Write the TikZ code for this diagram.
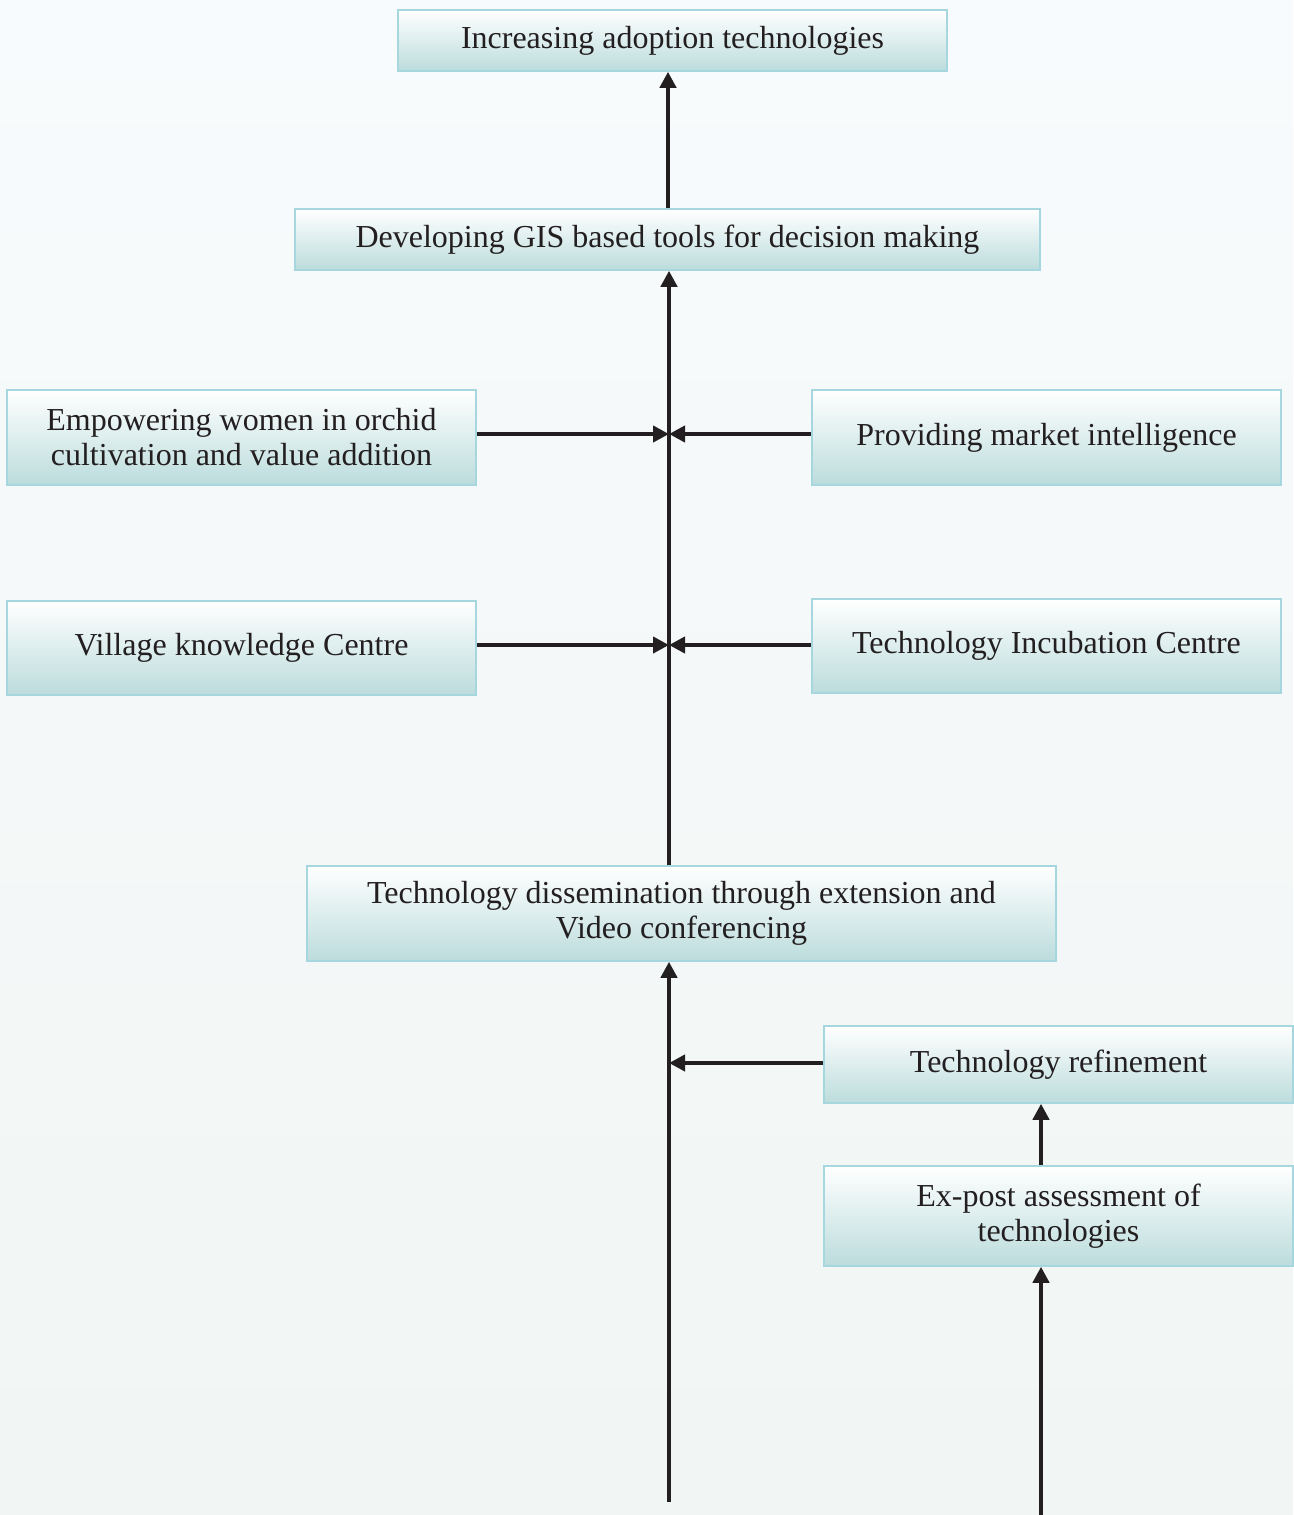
\documentclass[tikz,border=0pt]{standalone}
\usepackage{fontspec}
\setmainfont{Liberation Serif}
\usetikzlibrary{arrows.meta}

\definecolor{inkdark}{HTML}{231F20}
\definecolor{boxedge}{HTML}{A6D7DF}
\definecolor{boxlow}{HTML}{BCDCDC}
\definecolor{bgtop}{HTML}{F7FBFD}
\definecolor{bgbottom}{HTML}{F1F5F3}

\tikzset{
  flowbox/.style={draw=boxedge, line width=1.5pt, top color=white, bottom color=boxlow,
    inner sep=0pt, align=center, text=inkdark,
    font=\fontsize{32}{35}\selectfont},
  flowarrow/.style={draw=inkdark, line width=4.5pt,
    -{Triangle[length=16pt,width=16pt]}}
}

\begin{document}
\begin{tikzpicture}[x=1pt,y=-1pt]
  % background
  \shade[top color=bgtop, bottom color=bgbottom] (0,0) rectangle (1293,1515);
  \useasboundingbox (0,0) rectangle (1293,1515);

  % boxes
  \node[flowbox, minimum width=549pt, minimum height=61pt] (adopt) at (672.5,40.5) {Increasing adoption technologies};
  \node[flowbox, minimum width=745pt, minimum height=61pt] (gis) at (667.5,239.5) {Developing GIS based tools for decision making};
  \node[flowbox, minimum width=469pt, minimum height=95pt] (women) at (241.5,437.5) {Empowering women in orchid\\cultivation and value addition};
  \node[flowbox, minimum width=469pt, minimum height=95pt] (market) at (1046.5,437.5) {Providing market intelligence};
  \node[flowbox, minimum width=469pt, minimum height=94pt] (village) at (241.5,648) {Village knowledge Centre};
  \node[flowbox, minimum width=469pt, minimum height=94pt] (incub) at (1046.5,646) {Technology Incubation Centre};
  \node[flowbox, minimum width=749pt, minimum height=95pt] (dissem) at (681.5,913.5) {Technology dissemination through extension and\\Video conferencing};
  \node[flowbox, minimum width=469pt, minimum height=77pt] (refine) at (1058.5,1064.5) {Technology refinement};
  \node[flowbox, minimum width=469pt, minimum height=100pt] (expost) at (1058.5,1216) {Ex-post assessment of\\technologies};

  % junction points on the main trunk
  \coordinate (jwomen) at (669,434);
  \coordinate (jmarket) at (669,434);
  \coordinate (jvillage) at (669,645);
  \coordinate (jincub) at (669,645);
  \coordinate (jrefine) at (669,1063);
  \coordinate (trunkbase) at (669,1502);
  \coordinate (sidebase) at (1041,1515);

  % connectors
  \draw[flowarrow] (gis.north -| 668,0) -- (adopt.south -| 668,0);
  \draw[flowarrow] (dissem.north -| 669,0) -- (gis.south -| 669,0);
  \draw[flowarrow] (women.east |- jwomen) -- (jwomen);
  \draw[flowarrow] (market.west |- jmarket) -- (jmarket);
  \draw[flowarrow] (village.east |- jvillage) -- (jvillage);
  \draw[flowarrow] (incub.west |- jincub) -- (jincub);
  \draw[flowarrow] (trunkbase) -- (dissem.south -| trunkbase);
  \draw[flowarrow] (refine.west |- jrefine) -- (jrefine);
  \draw[flowarrow] (expost.north -| sidebase) -- (refine.south -| sidebase);
  \draw[flowarrow] (sidebase) -- (expost.south -| sidebase);
\end{tikzpicture}
\end{document}
